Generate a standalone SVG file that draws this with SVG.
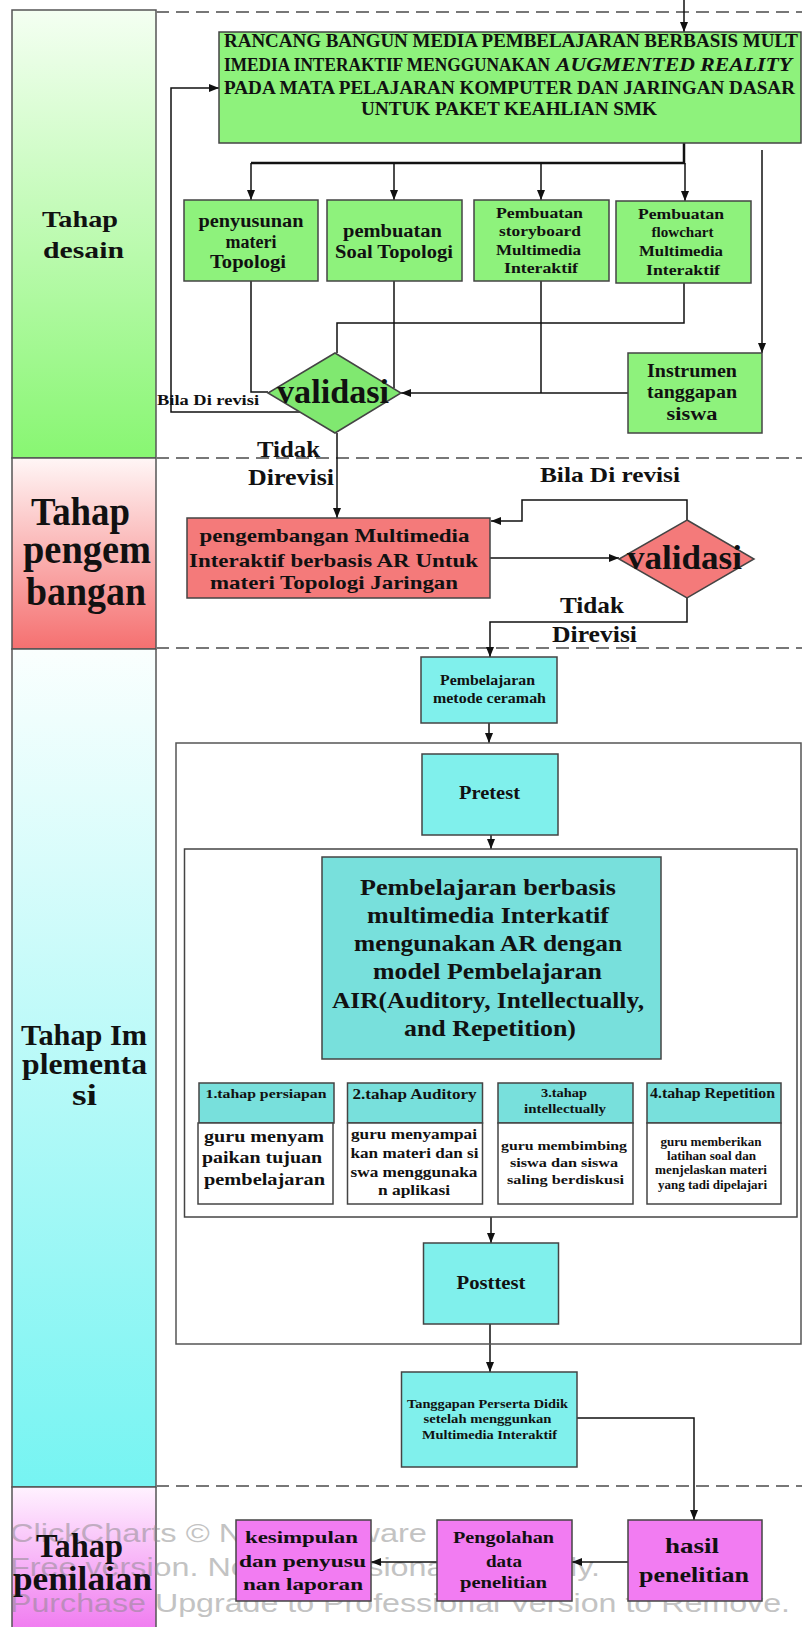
<svg xmlns="http://www.w3.org/2000/svg" width="802" height="1627" viewBox="0 0 802 1627">
<style>
.lane{stroke:#555;stroke-width:1.5}
.sep{stroke:#777;stroke-width:2;stroke-dasharray:13 7;fill:none}
.nd{stroke:#444;stroke-width:1.5}
.g{fill:#8ef27c}
.gd{fill:#80e870}
.r{fill:#f47a7a}
.c{fill:#80f0ec}
.cd{fill:#78e0dc}
.m{fill:#f27cf2}
.w{fill:#fff}
.box{fill:none;stroke:#555;stroke-width:1.5}
.e{stroke:#111;stroke-width:1.5;fill:none}
.ea{stroke:#111;stroke-width:1.5;fill:none;marker-end:url(#ah)}
.t{font-family:"Liberation Serif","Times New Roman",serif;font-weight:bold;text-anchor:middle;fill:#111}
.s{text-anchor:start}
.wm{font-family:"Liberation Sans",Arial,sans-serif;fill:#888;opacity:0.5}
</style>
<defs>
<marker id="ah" viewBox="0 0 10 8" markerWidth="10" markerHeight="8" refX="10" refY="4" orient="auto" markerUnits="userSpaceOnUse"><path d="M0,0 L10,4 L0,8 z" fill="#111"/></marker>
<linearGradient id="gD" x1="0" y1="0" x2="0" y2="1"><stop offset="0" stop-color="#f4fff2"/><stop offset="1" stop-color="#88f672"/></linearGradient>
<linearGradient id="gP" x1="0" y1="0" x2="0" y2="1"><stop offset="0" stop-color="#fff6f6"/><stop offset="1" stop-color="#f57070"/></linearGradient>
<linearGradient id="gI" x1="0" y1="0" x2="0" y2="1"><stop offset="0" stop-color="#fafffe"/><stop offset="1" stop-color="#76f4f2"/></linearGradient>
<linearGradient id="gN" x1="0" y1="0" x2="0" y2="1"><stop offset="0" stop-color="#fff2ff"/><stop offset="1" stop-color="#f07af0"/></linearGradient>
</defs>
<rect width="802" height="1627" fill="#fff"/>

<g id="lanes">
<rect class="lane" x="12" y="10" width="144" height="448" fill="url(#gD)"/>
<rect class="lane" x="12" y="458" width="144" height="191" fill="url(#gP)"/>
<rect class="lane" x="12" y="649" width="144" height="838" fill="url(#gI)"/>
<rect class="lane" x="12" y="1487" width="144" height="145" fill="url(#gN)"/>
<path class="sep" d="M156,12 H802 M156,458 H802 M156,648 H802 M156,1486 H802"/>
</g>

<g id="watermark">
<text class="wm" x="10" y="1542" font-size="26" textLength="417" lengthAdjust="spacingAndGlyphs">ClickCharts © NCH Software</text>
<text class="wm" x="10" y="1576" font-size="26" textLength="590" lengthAdjust="spacingAndGlyphs">Free version. Non-professional Use Only.</text>
<text class="wm" x="10" y="1612" font-size="26" textLength="780" lengthAdjust="spacingAndGlyphs">Purchase Upgrade to Professional Version to Remove.</text>
</g>

<g id="lane-labels">
<text class="t" x="80" y="227" font-size="24" textLength="76" lengthAdjust="spacingAndGlyphs">Tahap</text>
<text class="t" x="83.5" y="258" font-size="24" textLength="81" lengthAdjust="spacingAndGlyphs">desain</text>
<text class="t" x="80.5" y="525" font-size="40" textLength="99" lengthAdjust="spacingAndGlyphs">Tahap</text>
<text class="t" x="87" y="563" font-size="40" textLength="128" lengthAdjust="spacingAndGlyphs">pengem</text>
<text class="t" x="86" y="605" font-size="40" textLength="120" lengthAdjust="spacingAndGlyphs">bangan</text>
<text class="t" x="84" y="1045" font-size="29" textLength="126" lengthAdjust="spacingAndGlyphs">Tahap Im</text>
<text class="t" x="84.5" y="1074" font-size="29" textLength="125" lengthAdjust="spacingAndGlyphs">plementa</text>
<text class="t" x="84.5" y="1105" font-size="29" textLength="25" lengthAdjust="spacingAndGlyphs">si</text>
<text class="t" x="79.5" y="1557" font-size="33" textLength="87" lengthAdjust="spacingAndGlyphs">Tahap</text>
<text class="t" x="82.5" y="1590" font-size="33" textLength="139" lengthAdjust="spacingAndGlyphs">penilaian</text>
</g>

<g id="connectors">
<path class="ea" d="M684,0 V32"/>
<path class="e" d="M684,143 V163 H251" style="stroke-width:2.5"/>
<path class="ea" d="M251,163 V200"/>
<path class="ea" d="M394,163 V200"/>
<path class="ea" d="M541,163 V200"/>
<path class="ea" d="M685,163 V201"/>
<path class="ea" d="M762,150 V353"/>
<path class="e" d="M251,281 V392 H268"/>
<path class="e" d="M394,281 V388"/>
<path class="e" d="M541,281 V393"/>
<path class="ea" d="M628,393 H401"/>
<path class="e" d="M684,283 V323 H337 V353"/>
<path class="ea" d="M300,412 H171 V88 H219"/>
<path class="ea" d="M337,433 V518"/>
<path class="ea" d="M490,558 H619"/>
<path class="ea" d="M687,520 V500 H522 V521 H491"/>
<path class="ea" d="M687,598 V622 H490 V657"/>
<path class="ea" d="M489,710 V743"/>
<path class="ea" d="M491,835 V849"/>
<path class="ea" d="M491,1217 V1243"/>
<path class="ea" d="M490,1324 V1372"/>
<path class="ea" d="M577,1418 H694 V1520"/>
<path class="ea" d="M628,1562 H572"/>
<path class="ea" d="M437,1562 H371"/>
</g>

<g id="n-title">
<rect class="nd g" x="219" y="32" width="582" height="111"/>
<text class="t s" x="224" y="47" font-size="18" textLength="574" lengthAdjust="spacingAndGlyphs">RANCANG BANGUN MEDIA PEMBELAJARAN BERBASIS MULT</text>
<text class="t s" x="224" y="71" font-size="18" textLength="326" lengthAdjust="spacingAndGlyphs">IMEDIA INTERAKTIF MENGGUNAKAN</text>
<text class="t s" x="556" y="71" font-size="18" font-style="italic" textLength="236" lengthAdjust="spacingAndGlyphs">AUGMENTED REALITY</text>
<text class="t s" x="224" y="94" font-size="18" textLength="571" lengthAdjust="spacingAndGlyphs">PADA MATA PELAJARAN KOMPUTER DAN JARINGAN DASAR</text>
<text class="t" x="509" y="115" font-size="18" textLength="296" lengthAdjust="spacingAndGlyphs">UNTUK PAKET KEAHLIAN SMK</text>
</g>

<g id="n-materi">
<rect class="nd g" x="184" y="200" width="134" height="81"/>
<text class="t" x="251" y="227" font-size="18" textLength="105" lengthAdjust="spacingAndGlyphs">penyusunan</text>
<text class="t" x="251" y="248" font-size="18" textLength="51" lengthAdjust="spacingAndGlyphs">materi</text>
<text class="t" x="248" y="268" font-size="18" textLength="76" lengthAdjust="spacingAndGlyphs">Topologi</text>
</g>
<g id="n-soal">
<rect class="nd g" x="327" y="200" width="135" height="81"/>
<text class="t" x="392.5" y="237" font-size="18" textLength="99" lengthAdjust="spacingAndGlyphs">pembuatan</text>
<text class="t" x="394" y="258" font-size="18" textLength="118" lengthAdjust="spacingAndGlyphs">Soal Topologi</text>
</g>
<g id="n-storyboard">
<rect class="nd g" x="474" y="200" width="135" height="81"/>
<text class="t" x="539.5" y="218" font-size="15" textLength="87" lengthAdjust="spacingAndGlyphs">Pembuatan</text>
<text class="t" x="540" y="236" font-size="15" textLength="82" lengthAdjust="spacingAndGlyphs">storyboard</text>
<text class="t" x="538.5" y="255" font-size="15" textLength="85" lengthAdjust="spacingAndGlyphs">Multimedia</text>
<text class="t" x="541" y="273" font-size="15" textLength="74" lengthAdjust="spacingAndGlyphs">Interaktif</text>
</g>
<g id="n-flowchart">
<rect class="nd g" x="616" y="201" width="135" height="82"/>
<text class="t" x="681" y="219" font-size="15" textLength="86" lengthAdjust="spacingAndGlyphs">Pembuatan</text>
<text class="t" x="682.5" y="237" font-size="15" textLength="62" lengthAdjust="spacingAndGlyphs">flowchart</text>
<text class="t" x="681" y="256" font-size="15" textLength="84" lengthAdjust="spacingAndGlyphs">Multimedia</text>
<text class="t" x="683" y="275" font-size="15" textLength="74" lengthAdjust="spacingAndGlyphs">Interaktif</text>
</g>
<g id="n-instrumen">
<rect class="nd g" x="628" y="353" width="134" height="80"/>
<text class="t" x="692" y="377" font-size="18" textLength="90" lengthAdjust="spacingAndGlyphs">Instrumen</text>
<text class="t" x="692" y="398" font-size="18" textLength="90" lengthAdjust="spacingAndGlyphs">tanggapan</text>
<text class="t" x="692" y="420" font-size="18" textLength="51" lengthAdjust="spacingAndGlyphs">siswa</text>
</g>
<g id="n-validasi1">
<polygon class="nd gd" points="335,353 401,393 335,433 268,393"/>
<text class="t" x="333" y="403" font-size="34" textLength="112" lengthAdjust="spacingAndGlyphs">validasi</text>
</g>

<g id="edge-labels">
<text class="t s" x="157" y="405" font-size="15" textLength="102" lengthAdjust="spacingAndGlyphs">Bila Di revisi</text>
<text class="t" x="288.5" y="457" font-size="23" textLength="63" lengthAdjust="spacingAndGlyphs">Tidak</text>
<text class="t" x="291" y="485" font-size="23" textLength="86" lengthAdjust="spacingAndGlyphs">Direvisi</text>
<text class="t" x="610" y="482" font-size="22" textLength="140" lengthAdjust="spacingAndGlyphs">Bila Di revisi</text>
<text class="t" x="592" y="613" font-size="23" textLength="64" lengthAdjust="spacingAndGlyphs">Tidak</text>
<text class="t" x="594.5" y="642" font-size="23" textLength="85" lengthAdjust="spacingAndGlyphs">Direvisi</text>
</g>

<g id="n-pengembangan">
<rect class="nd r" x="187" y="518" width="303" height="80"/>
<text class="t" x="334.5" y="542" font-size="19" textLength="270" lengthAdjust="spacingAndGlyphs">pengembangan Multimedia</text>
<text class="t" x="333.5" y="567" font-size="19" textLength="289" lengthAdjust="spacingAndGlyphs">Interaktif berbasis AR Untuk</text>
<text class="t" x="334" y="589" font-size="19" textLength="248" lengthAdjust="spacingAndGlyphs">materi Topologi Jaringan</text>
</g>
<g id="n-validasi2">
<polygon class="nd r" points="687,520 754,559 687,598 619,559"/>
<text class="t" x="684.5" y="569" font-size="34" textLength="115" lengthAdjust="spacingAndGlyphs">validasi</text>
</g>

<g id="n-ceramah">
<rect class="nd c" x="421" y="657" width="136" height="66"/>
<text class="t" x="487.5" y="685" font-size="14" textLength="95" lengthAdjust="spacingAndGlyphs">Pembelajaran</text>
<text class="t" x="489.5" y="703" font-size="14" textLength="113" lengthAdjust="spacingAndGlyphs">metode ceramah</text>
</g>
<g id="n-outer">
<rect class="box" x="176" y="743" width="625" height="601"/>
</g>
<g id="n-pretest">
<rect class="nd c" x="422" y="754" width="136" height="81"/>
<text class="t" x="489.5" y="799" font-size="18" textLength="61" lengthAdjust="spacingAndGlyphs">Pretest</text>
</g>
<g id="n-inner">
<rect class="box" x="184.5" y="849" width="612.5" height="368" style="stroke:#444"/>
</g>
<g id="n-air">
<rect class="nd cd" x="322" y="857" width="339" height="202"/>
<text class="t" x="488" y="895" font-size="24" textLength="256" lengthAdjust="spacingAndGlyphs">Pembelajaran berbasis</text>
<text class="t" x="488" y="923" font-size="24" textLength="242" lengthAdjust="spacingAndGlyphs">multimedia Interkatif</text>
<text class="t" x="488" y="951" font-size="24" textLength="268" lengthAdjust="spacingAndGlyphs">mengunakan AR dengan</text>
<text class="t" x="487.5" y="979" font-size="24" textLength="229" lengthAdjust="spacingAndGlyphs">model Pembelajaran</text>
<text class="t" x="488" y="1008" font-size="24" textLength="312" lengthAdjust="spacingAndGlyphs">AIR(Auditory, Intellectually,</text>
<text class="t" x="490" y="1036" font-size="24" textLength="172" lengthAdjust="spacingAndGlyphs">and Repetition)</text>
</g>
<g id="n-step1">
<rect class="nd cd" x="199" y="1083" width="135" height="40"/>
<rect class="nd w" x="198" y="1123" width="135" height="81"/>
<text class="t" x="266" y="1098" font-size="13" textLength="121" lengthAdjust="spacingAndGlyphs">1.tahap persiapan</text>
<text class="t" x="264" y="1142" font-size="17" textLength="120" lengthAdjust="spacingAndGlyphs">guru menyam</text>
<text class="t" x="262" y="1163" font-size="17" textLength="120" lengthAdjust="spacingAndGlyphs">paikan tujuan</text>
<text class="t" x="264.5" y="1185" font-size="17" textLength="121" lengthAdjust="spacingAndGlyphs">pembelajaran</text>
</g>
<g id="n-step2">
<rect class="nd cd" x="347.5" y="1083" width="135" height="40"/>
<rect class="nd w" x="347.5" y="1123" width="135" height="81"/>
<text class="t" x="414.5" y="1099" font-size="15" textLength="124" lengthAdjust="spacingAndGlyphs">2.tahap Auditory</text>
<text class="t" x="414" y="1139" font-size="15" textLength="126" lengthAdjust="spacingAndGlyphs">guru menyampai</text>
<text class="t" x="414.5" y="1158" font-size="15" textLength="128" lengthAdjust="spacingAndGlyphs">kan materi dan si</text>
<text class="t" x="414" y="1177" font-size="15" textLength="127" lengthAdjust="spacingAndGlyphs">swa menggunaka</text>
<text class="t" x="414" y="1195" font-size="15" textLength="72" lengthAdjust="spacingAndGlyphs">n aplikasi</text>
</g>
<g id="n-step3">
<rect class="nd cd" x="498" y="1083" width="135" height="40"/>
<rect class="nd w" x="498" y="1123" width="135" height="81"/>
<text class="t" x="564" y="1097" font-size="12" textLength="46" lengthAdjust="spacingAndGlyphs">3.tahap</text>
<text class="t" x="565" y="1113" font-size="12" textLength="82" lengthAdjust="spacingAndGlyphs">intellectually</text>
<text class="t" x="564" y="1150" font-size="13" textLength="126" lengthAdjust="spacingAndGlyphs">guru membimbing</text>
<text class="t" x="564" y="1167" font-size="13" textLength="108" lengthAdjust="spacingAndGlyphs">siswa dan siswa</text>
<text class="t" x="565.5" y="1184" font-size="13" textLength="117" lengthAdjust="spacingAndGlyphs">saling berdiskusi</text>
</g>
<g id="n-step4">
<rect class="nd cd" x="647" y="1083" width="134" height="40"/>
<rect class="nd w" x="647" y="1123" width="134" height="81"/>
<text class="t" x="712.5" y="1098" font-size="14" textLength="125" lengthAdjust="spacingAndGlyphs">4.tahap Repetition</text>
<text class="t" x="711" y="1146" font-size="12" textLength="101" lengthAdjust="spacingAndGlyphs">guru memberikan</text>
<text class="t" x="711.5" y="1160" font-size="12" textLength="89" lengthAdjust="spacingAndGlyphs">latihan soal dan</text>
<text class="t" x="711" y="1174" font-size="12" textLength="112" lengthAdjust="spacingAndGlyphs">menjelaskan materi</text>
<text class="t" x="712.5" y="1189" font-size="12" textLength="109" lengthAdjust="spacingAndGlyphs">yang tadi dipelajari</text>
</g>
<g id="n-posttest">
<rect class="nd c" x="423.5" y="1243" width="135" height="81"/>
<text class="t" x="491" y="1289" font-size="18" textLength="69" lengthAdjust="spacingAndGlyphs">Posttest</text>
</g>
<g id="n-tanggapan">
<rect class="nd c" x="401.5" y="1372" width="175.5" height="95"/>
<text class="t" x="487.5" y="1408" font-size="12.5" textLength="161" lengthAdjust="spacingAndGlyphs">Tanggapan Perserta Didik</text>
<text class="t" x="487.5" y="1423" font-size="12.5" textLength="128" lengthAdjust="spacingAndGlyphs">setelah menggunkan</text>
<text class="t" x="489.5" y="1439" font-size="12.5" textLength="135" lengthAdjust="spacingAndGlyphs">Multimedia Interaktif</text>
</g>
<g id="n-hasil">
<rect class="nd m" x="628" y="1520" width="134" height="81"/>
<text class="t" x="692" y="1553" font-size="22" textLength="54" lengthAdjust="spacingAndGlyphs">hasil</text>
<text class="t" x="694" y="1582" font-size="22" textLength="110" lengthAdjust="spacingAndGlyphs">penelitian</text>
</g>
<g id="n-pengolahan">
<rect class="nd m" x="437" y="1520" width="135" height="81"/>
<text class="t" x="503.5" y="1543" font-size="17" textLength="101" lengthAdjust="spacingAndGlyphs">Pengolahan</text>
<text class="t" x="504" y="1567" font-size="17" textLength="36" lengthAdjust="spacingAndGlyphs">data</text>
<text class="t" x="503.5" y="1588" font-size="17" textLength="87" lengthAdjust="spacingAndGlyphs">penelitian</text>
</g>
<g id="n-kesimpulan">
<rect class="nd m" x="236" y="1520" width="135" height="81"/>
<text class="t" x="301.5" y="1543" font-size="17" textLength="113" lengthAdjust="spacingAndGlyphs">kesimpulan</text>
<text class="t" x="302.5" y="1567" font-size="17" textLength="127" lengthAdjust="spacingAndGlyphs">dan penyusu</text>
<text class="t" x="303" y="1590" font-size="17" textLength="120" lengthAdjust="spacingAndGlyphs">nan laporan</text>
</g>
</svg>
